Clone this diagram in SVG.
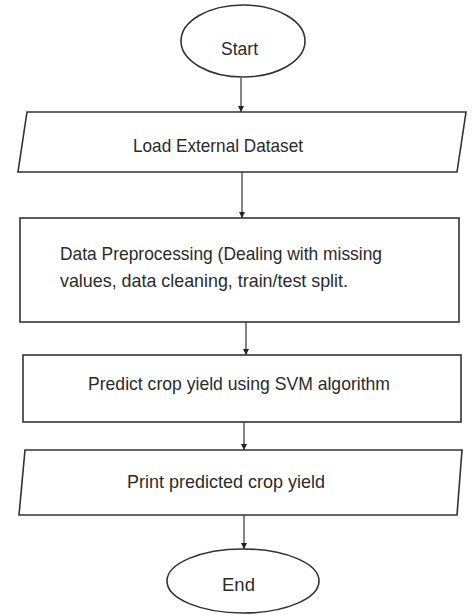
<svg xmlns="http://www.w3.org/2000/svg" width="473" height="615" viewBox="0 0 473 615">
<defs>
<style>
.shape{fill:#ffffff;stroke:#333333;stroke-width:1.6}
.conn{fill:none;stroke:#333333;stroke-width:1.2}
.lbl{font-family:"Liberation Sans",Arial,sans-serif;font-size:19px;fill:#2b2b2b}
</style>
<marker id="arr" viewBox="0 0 10 10" refX="10" refY="5" markerWidth="6" markerHeight="6" markerUnits="userSpaceOnUse" orient="auto">
<path d="M0,0 L10,5 L0,10 z" fill="#222222"/>
</marker>
</defs>
<rect width="473" height="615" fill="#ffffff"/>
<g id="connectors">
<line class="conn" x1="241" y1="78" x2="241" y2="112" marker-end="url(#arr)"/>
<line class="conn" x1="242" y1="172" x2="242" y2="218" marker-end="url(#arr)"/>
<line class="conn" x1="246" y1="322" x2="246" y2="355" marker-end="url(#arr)"/>
<line class="conn" x1="244" y1="422" x2="244" y2="450" marker-end="url(#arr)"/>
<line class="conn" x1="244" y1="515" x2="244" y2="549" marker-end="url(#arr)"/>
</g>
<g id="start">
<ellipse class="shape" cx="243" cy="41" rx="62" ry="36"/>
<text class="lbl" x="221" y="55" textLength="37" lengthAdjust="spacingAndGlyphs">Start</text>
</g>
<g id="load">
<polygon class="shape" points="27,112 466,112 457,172 18,172"/>
<text class="lbl" x="133" y="152" textLength="170" lengthAdjust="spacingAndGlyphs">Load External Dataset</text>
</g>
<g id="preprocess">
<rect class="shape" x="20" y="218" width="439" height="104"/>
<text class="lbl" x="60" y="260" textLength="322" lengthAdjust="spacingAndGlyphs">Data Preprocessing (Dealing with missing</text>
<text class="lbl" x="60" y="287" textLength="288" lengthAdjust="spacingAndGlyphs">values, data cleaning, train/test split.</text>
</g>
<g id="predict">
<rect class="shape" x="23" y="355" width="438" height="67"/>
<text class="lbl" x="88" y="390" textLength="302" lengthAdjust="spacingAndGlyphs">Predict crop yield using SVM algorithm</text>
</g>
<g id="print">
<polygon class="shape" points="25,450 462,450 457,515 19,515"/>
<text class="lbl" x="127" y="488" textLength="198" lengthAdjust="spacingAndGlyphs">Print predicted crop yield</text>
</g>
<g id="end">
<ellipse class="shape" cx="243" cy="581" rx="76" ry="32"/>
<text class="lbl" x="222" y="591" textLength="33" lengthAdjust="spacingAndGlyphs">End</text>
</g>
</svg>
